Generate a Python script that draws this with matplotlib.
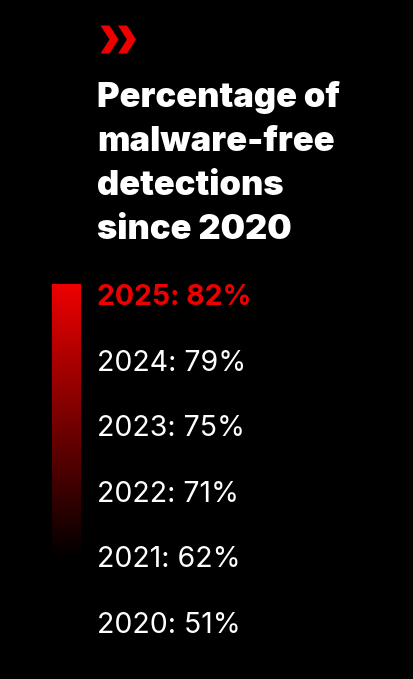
import numpy as np
import matplotlib.pyplot as plt
from matplotlib.patches import Polygon
from matplotlib.colors import LinearSegmentedColormap

years = [2025, 2024, 2023, 2022, 2021, 2020]
pct = [82, 79, 75, 71, 62, 51]
title_lines = ["Percentage of", "malware-free", "detections", "since 2020"]

RED = '#EE0000'
W, H = 414, 679
fig = plt.figure(figsize=(W/100, H/100), dpi=100, facecolor='black')

def fy(y):
    return 1 - y/H

# chevron icon
ax_ic = fig.add_axes([0, 0, 1, 1], facecolor='none')
ax_ic.set_xlim(0, W); ax_ic.set_ylim(H, 0); ax_ic.axis('off')
for dx in [0, 17.5]:
    pts = np.array([[100.5, 25.5], [109.5, 25.5], [118.5, 39.5], [109.5, 53.5], [100.5, 53.5], [109.5, 39.5]], float)
    pts[:, 0] += dx
    ax_ic.add_patch(Polygon(pts, closed=True, color=RED, lw=0))

# title
for i, line in enumerate(title_lines):
    fig.text(97/W, fy(107 + i*44), line, color='white', fontsize=24.8,
             fontweight='black', family='Inter', va='baseline', ha='left')

# gradient bar
ax_bar = fig.add_axes([52/W, fy(558), 29/W, (558-284)/H])
cmap = LinearSegmentedColormap.from_list('rb', ['black', RED])
grad = np.linspace(1, 0, 256).reshape(-1, 1)
ax_bar.imshow(grad, aspect='auto', cmap=cmap, vmin=0, vmax=1)
ax_bar.axis('off')

# year labels
for i, (yr, p) in enumerate(zip(years, pct)):
    first = i == 0
    fig.text(97/W, fy(305 + i*65.6), f"{yr}: {p}%",
             color=RED if first else 'white', fontsize=20.5,
             fontweight='bold' if first else 'normal', family='Inter',
             va='baseline', ha='left')

fig.savefig('out.png', dpi=100, facecolor='black')
